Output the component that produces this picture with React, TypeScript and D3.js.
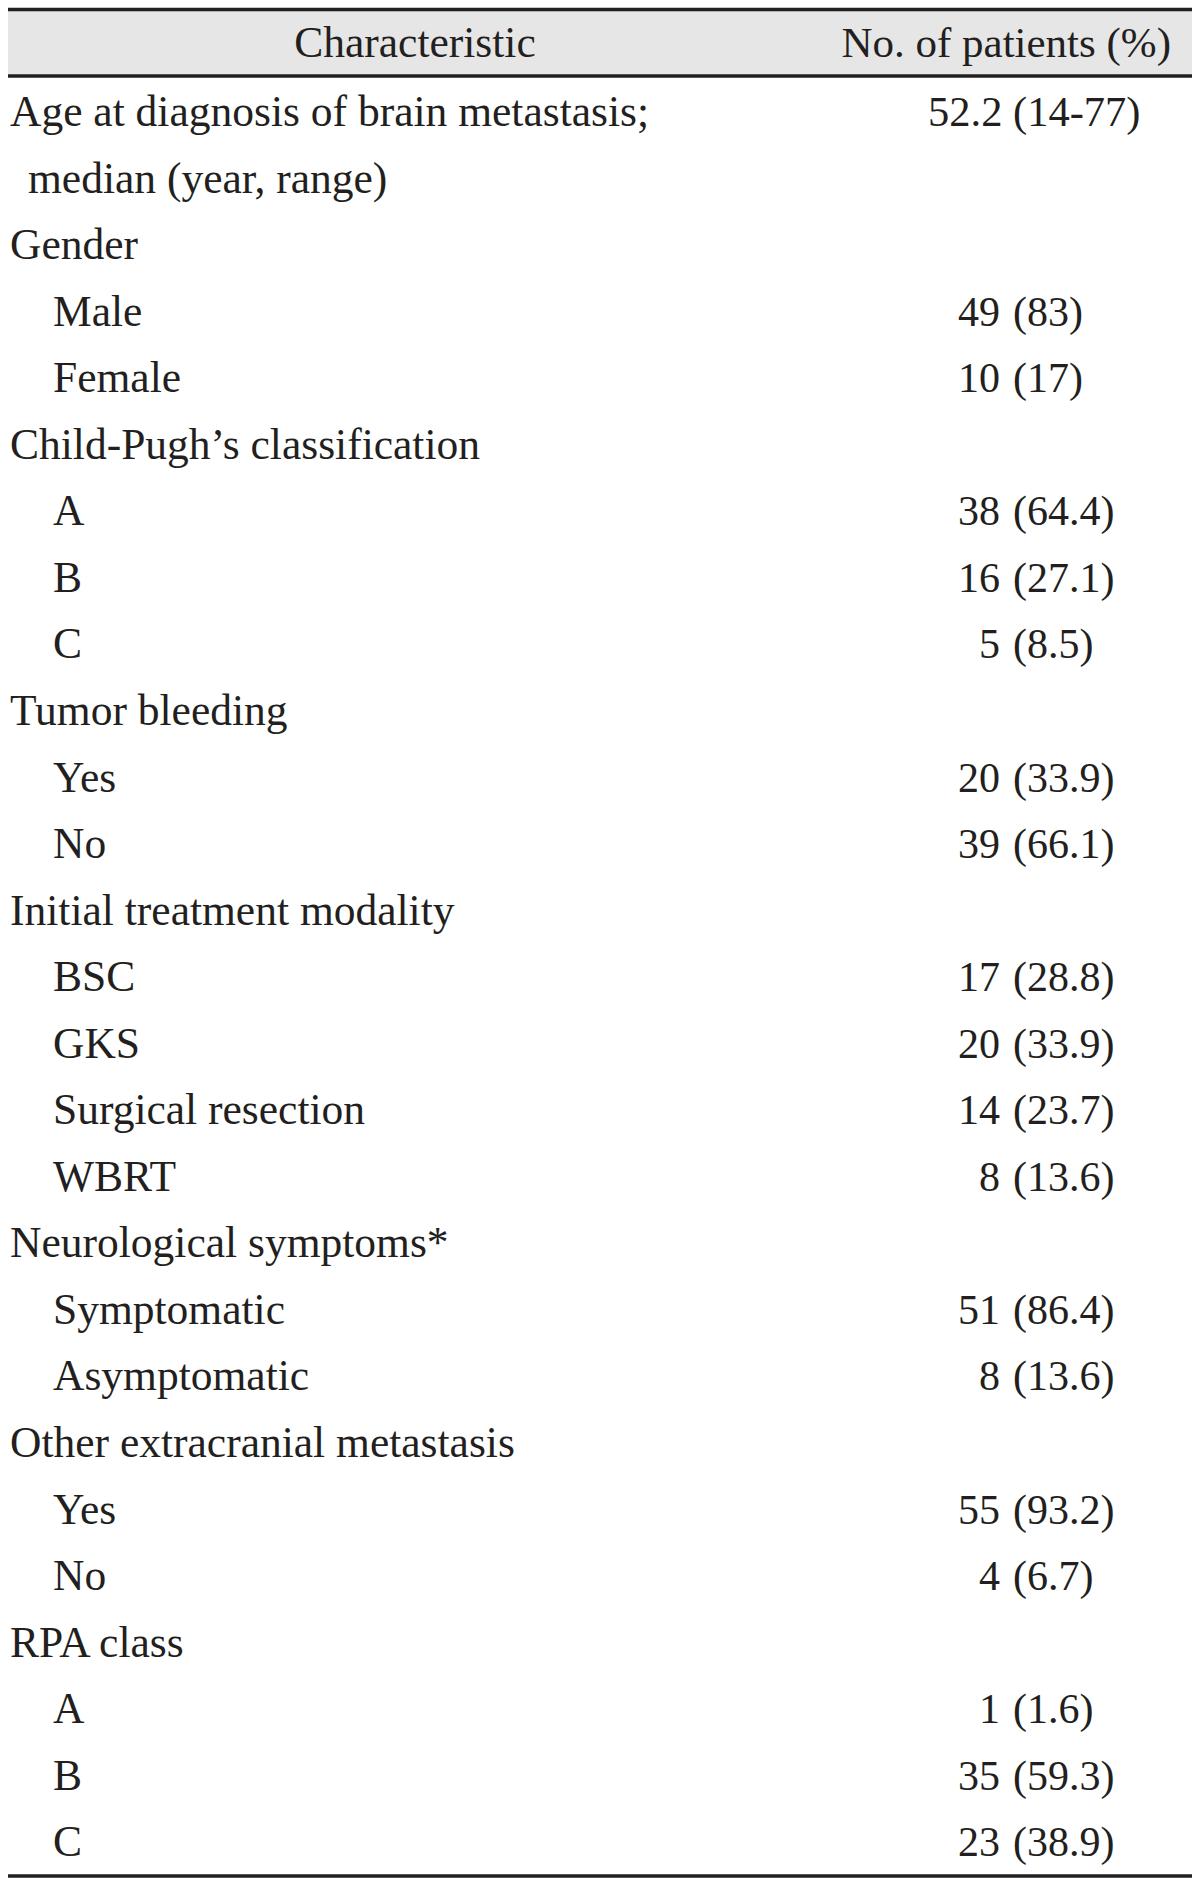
import React from "react";
import * as d3 from "d3";

const headerLabels = ["Characteristic", "No. of patients (%)"];

const rowLabels = [
  "Age at diagnosis of brain metastasis;",
  "median (year, range)",
  "Gender",
  "Male",
  "Female",
  "Child-Pugh\u2019s classification",
  "A",
  "B",
  "C",
  "Tumor bleeding",
  "Yes",
  "No",
  "Initial treatment modality",
  "BSC",
  "GKS",
  "Surgical resection",
  "WBRT",
  "Neurological symptoms*",
  "Symptomatic",
  "Asymptomatic",
  "Other extracranial metastasis",
  "Yes",
  "No",
  "RPA class",
  "A",
  "B",
  "C",
];

// 0 = group heading, 1 = continuation line, 2 = sub item
const rowIndent = [0, 1, 0, 2, 2, 0, 2, 2, 2, 0, 2, 2, 0, 2, 2, 2, 2, 0, 2, 2, 0, 2, 2, 0, 2, 2, 2];

const rowCounts = ["", "", "", "49", "10", "", "38", "16", "5", "", "20", "39", "", "17", "20", "14", "8", "", "51", "8", "", "55", "4", "", "1", "35", "23"];
const rowPercents = ["", "", "", "(83)", "(17)", "", "(64.4)", "(27.1)", "(8.5)", "", "(33.9)", "(66.1)", "", "(28.8)", "(33.9)", "(23.7)", "(13.6)", "", "(86.4)", "(13.6)", "", "(93.2)", "(6.7)", "", "(1.6)", "(59.3)", "(38.9)"];

const ageSummary = "52.2 (14-77)";

export default function App() {
  const W = 1200;
  const H = 1886;
  const left = 8;
  const right = 1192;
  const font = "'Liberation Serif', 'Times New Roman', serif";
  const ink = "#231f20";

  const y = d3
    .scaleLinear()
    .domain([0, rowLabels.length - 1])
    .range([126, 126 + 66.55 * (rowLabels.length - 1)]);

  const indentX = d3.scaleOrdinal<number, number>().domain([0, 1, 2]).range([10, 28, 53]);

  const countEnd = 1000;
  const pctStart = 1013;

  return (
    <svg
      width={W}
      height={H}
      style={{ position: "absolute", left: 0, top: 0, display: "block", background: "#fff" }}
    >
      <rect x={left} y={9.5} width={right - left} height={66.5} fill="#e6e6e6" />
      <line x1={left} x2={right} y1={9.5} y2={9.5} stroke={ink} strokeWidth={3.5} />
      <line x1={left} x2={right} y1={76} y2={76} stroke={ink} strokeWidth={3.5} />
      <line x1={left} x2={right} y1={1876} y2={1876} stroke={ink} strokeWidth={3.5} />

      <text x={415} y={57} textAnchor="middle" fontFamily={font} fontSize={43.5} fill={ink}>
        {headerLabels[0]}
      </text>
      <text x={1171} y={57} textAnchor="end" fontFamily={font} fontSize={43} fill={ink}>
        {headerLabels[1]}
      </text>

      {rowLabels.map((lab, i) => (
        <text
          key={"l" + i}
          x={indentX(rowIndent[i])}
          y={y(i)}
          fontFamily={font}
          fontSize={43.5}
          fill={ink}
        >
          {lab}
        </text>
      ))}

      <text x={928} y={y(0)} fontFamily={font} fontSize={42.5} fill={ink}>
        {ageSummary}
      </text>

      {rowCounts.map((c, i) =>
        c ? (
          <g key={"v" + i}>
            <text x={countEnd} y={y(i)} textAnchor="end" fontFamily={font} fontSize={42} fill={ink}>
              {c}
            </text>
            <text x={pctStart} y={y(i)} fontFamily={font} fontSize={42} fill={ink}>
              {rowPercents[i]}
            </text>
          </g>
        ) : null
      )}
    </svg>
  );
}
